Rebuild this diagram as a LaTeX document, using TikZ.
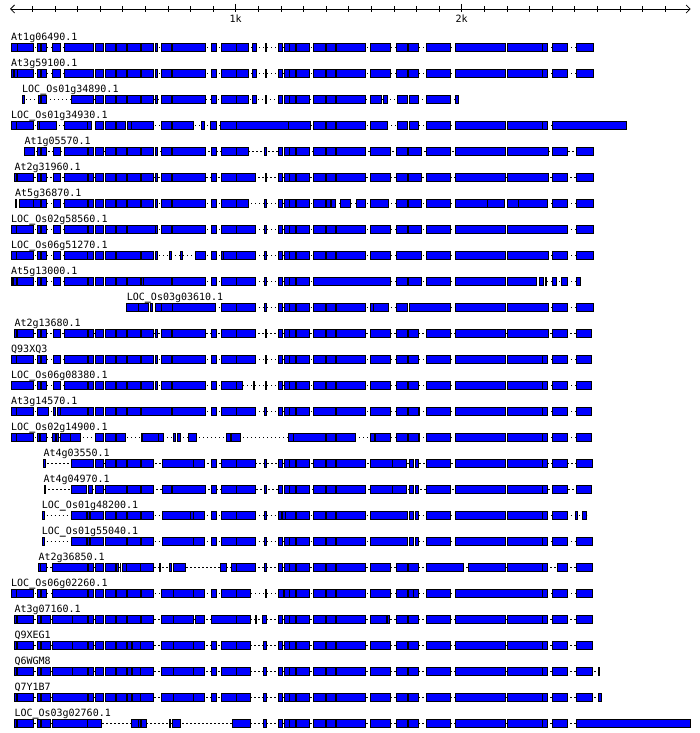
\documentclass[tikz,border=0pt]{standalone}
\usepackage{fontspec}
\usepackage{graphicx}
\setmonofont{DejaVu Sans Mono}
\usetikzlibrary{arrows.meta}

\tikzset{
  exon/.style={draw=black, fill=blue, line width=0.8pt},
  intron/.style={draw=black, line width=0.8pt, dash pattern=on 1.2pt off 2.8pt},
  gname/.style={anchor=base west, inner sep=0pt, font=\ttfamily\fontsize{10}{12}\selectfont},
  kbmark/.style={anchor=base, inner sep=0pt, font=\ttfamily\fontsize{10}{12}\selectfont},
  ruler/.style={draw=black, line width=0.8pt},
}

% a heavier underscore, the plain one vanishes at this size
\newcommand{\uscore}{\raisebox{3.4pt}{\scalebox{1}[2.4]{\_}}}

% exon blocks shared by most of the models (pixel positions)
\newcommand{\coremid}{95/103.3, 105/115, 116.7/126, 127.7/140.7, 141.7/153.3, 155.7/157, 161/171.7, 172.7/205, 211.7/216, 221.7/236.7}
\newcommand{\coretail}{278.3/282.7, 284.3/289, 289/295.3, 296/309.3, 313.3/325, 326/335, 336.7/365.7}
\newcommand{\rightA}{370/390, 396/407.7, 408.7/418, 426.3/450.7, 455/505.7, 507/542.7, 542.7/547.7, 552.3/567.7, 576.3/593.7}
\newcommand{\rightB}{370/390, 396/407.7, 408.7/421.7, 426.3/450.7, 455/505.7, 507/548.7, 552.3/567.7, 576.3/593.7}
\newcommand{\rightC}{370/390, 396/407.7, 408.7/418.7, 426.3/450.7, 455/505.7, 507/542.7, 542.7/547.7, 552.3/567.7, 576.3/592.7}

% one gene model: y, first base, last base, exons
\newcommand{\genemodel}[4]{%
  \draw[intron] (#2,#1) -- (#3,#1);
  \edef\exonlist{#4}%
  \foreach \xs/\xe in \exonlist {\draw[exon] (\xs,#1-3.7) rectangle (\xe,#1+3.7);}%
}

\begin{document}
\begin{tikzpicture}[x=1pt, y=-1pt]
\useasboundingbox (0,0) rectangle (700,733);

% scale
\draw[ruler, {Straight Barb[length=4pt,width=8pt]}-{Straight Barb[length=4pt,width=8pt]}] (10,9) -- (690.7,9);
\foreach \i in {1,...,29} \draw[ruler] (9.7+22.6*\i,6.5) -- (9.7+22.6*\i,12.3);
\draw[ruler] (235.7,4) -- (235.7,12.3);
\draw[ruler] (461.7,4) -- (461.7,12.3);
\node[kbmark] (k1) at (235.7,22.5) {1k};
\node[kbmark] (k2) at (461.7,22.5) {2k};

% gene models
\genemodel{47.5}{11}{593.7}{11/17.3, 17.3/33.3, 37.3/40, 41/46.7, 52.7/60, 64.3/93.3, \coremid, 236.7/248.3, 252.3/256, 265/266, \coretail, \rightA}
\node[gname] (g1) at (11,40.5) {At1g06490.1};

\genemodel{73.5}{11}{593.7}{11/13.3, 14/17.3, 17.3/33.3, 37.3/40, 41/46.7, 52.7/60, 64.3/93.3, \coremid, 236.7/248.3, 252.3/256, 265/266, \coretail, \rightA}
\node[gname] (g2) at (11,66.5) {At3g59100.1};

\genemodel{99.5}{22}{458.7}{22/24, 38.3/40, 41/46.7, 71.7/93.3, \coremid, 236.7/248.3, 252.3/256, 265/266, \coretail, 370/381.7, 383/387.7, 397.3/407.7, 409/418, 426.3/450.7, 455/458.7}
\node[gname] (g3) at (22,92.5) {LOC\uscore Os01g34890.1};

\genemodel{125.5}{11}{626.7}{11/16, 16/33.3, 37.3/39.3, 39.3/56, 64.3/87.3, 87.3/91.7, 95/103.3, 105/115, 116.7/125, 127.7/131.7, 131.7/153.3, 161/171.7, 172.7/193.3, 201.7/204, 210.7/216, 220.7/236.7, 236.7/288.3, 288.3/310, 313.3/325, 326/335, 336.7/365.7, 370/387.7, 397.3/407.7, 409/418, 426.3/450.7, 455/505.7, 507/542.7, 542.7/547.7, 552.3/626.7}
\node[gname] (g4) at (11,118.5) {LOC\uscore Os01g34930.1};

\genemodel{151.5}{24.3}{593.7}{24.3/34.3, 37.3/40, 41/46.7, 53.3/60, 64.3/87.3, 88.3/93.3, \coremid, 236.7/248.3, 264.3/266.7, \coretail, \rightB}
\node[gname] (g5) at (24.3,144.5) {At1g05570.1};

\genemodel{177.5}{14.3}{593.7}{14.3/16, 17.3/33.3, 37.3/40, 41/46.7, 53.3/60, 64.3/87.3, 88.3/93.3, \coremid, 236.7/255, 265/266.7, \coretail, \rightB}
\node[gname] (g6) at (14.3,170.5) {At2g31960.1};

\genemodel{203.5}{15}{593.7}{15/16.3, 19.3/33.3, 33.3/40, 41/46.7, 53.3/60, 64.3/87.3, 88.3/93.3, \coremid, 236.7/248.3, 264.3/266.7, 278.3/282.7, 284.3/289, 289/295.3, 296/309.3, 313.3/325, 326/330, 331/335, 340/350, 356.3/365.7, 370/388.3, 396/407.7, 408.7/421.7, 426.3/450.7, 455/487.7, 487.7/504.7, 507/518.7, 518.7/547.7, 552.3/567.7, 576.3/593.7}
\node[gname] (g7) at (15,196.5) {At5g36870.1};

\genemodel{229.5}{11}{593.7}{11/16, 16/33.3, 37.3/40, 41/46.7, 53.3/60, 64.3/87.3, 88.3/93.3, 95/103.3, 105/115, 116.7/126, 127.7/155, 155.7/157, 161/171.7, 172.7/205, 211.7/216, 221.7/236.7, 236.7/255, 264.3/266.7, \coretail, 370/390, 396/407.7, 408.7/421.7, 426.3/450.7, 455/505.7, 507/567.7, 576.3/593.7}
\node[gname] (g8) at (11,222.5) {LOC\uscore Os02g58560.1};

\genemodel{255.5}{11}{593.7}{11/16, 16/33.3, 37.3/40, 41/46.7, 53.3/60, 64.3/87.3, 87.3/93.3, 95/103.3, 105/115, 116.7/140, 141.7/153.3, 155.7/157, 169.3/171, 180/182.7, 195/205, 211.7/216, 221/223.3, 223.3/236.7, 236.7/255, 264.3/266.7, \coretail, 370/390, 396/421.7, 426.3/450.7, 455/505.7, 507/548.7, 552.3/567.7, 576.3/593.7}
\node[gname] (g9) at (11,248.5) {LOC\uscore Os06g51270.1};

\genemodel{281.5}{11}{580.7}{11/12.7, 13.3/16, 17.3/33.3, 37.3/40, 41/46.7, 53.3/60, 64.3/87.3, 88.3/93.3, 95/103.3, 105/115, 116.7/126, 127.7/140.7, 141.7/143.7, 143.7/171.7, 172.7/205, 211.7/216, 221.7/236.7, 236.7/255, 264.3/266.7, 278.3/282.7, 284.3/289, 289/295.3, 296/309.3, 313.3/390, 396/407.7, 408.7/421.7, 426.3/450.7, 455/505.7, 507/536.7, 539/543.7, 545/546.7, 552.3/556.7, 561.3/567.7, 576.3/580.7}
\node[gname] (g10) at (11,274.5) {At5g13000.1};

\genemodel{307.5}{126.7}{593.7}{126.7/138.3, 138.3/148.3, 150/152, 155/161, 161/172, 172.7/215, 221.7/236.7, 236.7/255, 264.3/266.7, \coretail, 370/373.3, 373.3/388.7, 396/407.7, 409/450.7, 455/505.7, 507/548.7, 552.3/567.7, 576.3/593.7}
\node[gname] (g11) at (126.7,300.5) {LOC\uscore Os03g03610.1};

\genemodel{333.5}{14.3}{591.7}{14.3/16, 17.3/33.3, 37.3/40, 41/46.7, 53.3/60, 64.3/87.3, 88.3/93.3, \coremid, 236.7/255, 265/266, \coretail, 370/390, 396/407.7, 408.7/418.7, 426.3/450.7, 455/505.7, 507/548.7, 552.3/567.7, 576.3/591.7}
\node[gname] (g12) at (14.3,326.5) {At2g13680.1};

\genemodel{359.5}{11}{591.7}{11/16, 16/33.3, 37.3/40, 41/46.7, 53.3/60, 64.3/87.3, 88.3/93.3, \coremid, 236.7/255, 265/266, \coretail, 370/390, 396/407.7, 408.7/418.7, 426.3/450.7, 455/505.7, 507/542.7, 542.7/547.7, 552.3/567.7, 576.3/591.7}
\node[gname] (g13) at (11,352.5) {Q93XQ3};

\genemodel{385.5}{11}{591.7}{11/33.3, 37.3/40, 41/46.7, 53.3/60, 64.3/87.3, 88.3/93.3, \coremid, 236.7/242.7, 253.3/254.3, 265/266, \coretail, 370/390, 396/407.7, 408.7/418.7, 426.3/450.7, 455/505.7, 507/542.7, 542.7/547.7, 552.3/567.7, 576.3/591.7}
\node[gname] (g14) at (11,378.5) {LOC\uscore Os06g08380.1};

\genemodel{411.5}{11}{591.7}{11/16, 16/33.3, 37.3/48.3, 53.3/55, 57.3/60, 60/87.3, 88.3/93.3, 95/103.3, 105/115, 116.7/126, 127.7/140.7, 141.7/171.7, 172.7/205, 211.7/216, 221.7/236.7, 236.7/255, 264.3/266.7, 278.3/282.7, 284.3/289, 289/295.3, 296/309.3, 313.3/335, 336.7/365.7, 370/390, 396/407.7, 408.7/418, 419/419.7, 426.3/450.7, 455/505.7, 507/542.7, 542.7/547.7, 552.3/567.7, 576.3/591.7}
\node[gname] (g15) at (11,404.5) {At3g14570.1};

\genemodel{437.5}{11}{591.7}{11/16, 16/33.3, 37.3/39.3, 40/46.7, 52.7/55, 56/58.3, 60/70, 70/80, 95/103.3, 105/115, 116.7/125, 141/142.7, 142.7/158.3, 158.3/163.3, 173.3/175.3, 177.7/180, 188.3/196.7, 226.7/230.7, 231/240.7, 288.3/293.3, 293.3/325, 326/335, 336.7/355.7, 370/374, 375/390, 396/407.7, 408.7/418, 419/419.7, 426.3/450.7, 455/505.7, 507/542.7, 542.7/547.7, 552.3/567.7, 576.3/591.7}
\node[gname] (g16) at (11,430.5) {LOC\uscore Os02g14900.1};

\genemodel{463.5}{43.3}{592.7}{43.3/45, 71.7/93.3, 95/103.3, 105/115, 116.7/126, 127.7/140.7, 141.7/153.3, 162.3/193.3, 193.3/204, 211.7/216, 221.7/236.7, 236.7/255, 264.3/266.7, \coretail, 370/392.3, 392.3/406.7, 409/413.7, 415/418.7, 426.3/450.7, 455/505.7, 507/542.7, 542.7/547.7, 552.3/567.7, 576.3/592.7}
\node[gname] (g17) at (43.3,456.5) {At4g03550.1};

\genemodel{489.5}{44.3}{591.7}{44.3/45.7, 71.7/86, 88.3/92.7, 95/103.3, 105/126, 127.7/140.7, 141.7/153.3, 162.3/171.7, 172.7/205, 211.7/216, 221.7/236.7, 236.7/255, 264.3/266.7, \coretail, 370/392.3, 392.3/406.7, 409/413.7, 415/418.7, 426.3/450.7, 455/505.7, 507/542.7, 542.7/547.7, 552.3/567.7, 576.3/591.7}
\node[gname] (g18) at (43.3,482.5) {At4g04970.1};

\genemodel{515.5}{42.7}{586.7}{42.7/44.7, 71.7/86, 87.3/89.3, 90/103.3, 105/115, 116.7/126, 127.7/140.7, 141.7/153.3, 162.3/190.7, 190.7/193.3, 193.3/204, 211.7/216, 221.7/236.7, 236.7/255, 264.3/266.7, 278.3/281, 282.7/285, 285/295.3, 296/309.3, 313.3/325, 326/335, 336.7/365.7, 370/407.7, 409/413.7, 415/418.7, 426.3/450.7, 455/505.7, 507/542.7, 542.7/547.7, 552.3/567.7, 575.7/577.7, 582.3/586.7}
\node[gname] (g19) at (41.7,508.5) {LOC\uscore Os01g48200.1};

\genemodel{541.5}{42.7}{592.7}{42.7/44.7, 71.7/86, 87.3/89.3, 90/103.3, 105/126, 127.7/140.7, 141.7/153.3, 162.3/193.3, 193.3/204, 211.7/216, 221.7/236.7, 236.7/255, 264.3/266.7, \coretail, 370/407.7, 409/413.7, 415/418.7, 426.3/450.7, 455/505.7, 507/542.7, 542.7/547.7, 552.3/567.7, 576.3/592.7}
\node[gname] (g20) at (41.7,534.5) {LOC\uscore Os01g55040.1};

\genemodel{567.5}{38.3}{592.7}{38.3/40, 40.7/46.7, 52.7/87.3, 88.3/93.3, 95/103.3, 105/115, 116.7/118.3, 120/120.7, 122.7/126, 126.7/140, 140/153.3, 159.3/160.3, 169.3/171.3, 173.3/185, 220.7/226.7, 231.7/236.7, 236.7/255, 264.3/266.7, \coretail, 370/390, 396/407.7, 408.7/418.7, 426.3/463.7, 468.3/505.7, 507/542.7, 542.7/547.7, 557.3/567.7, 576.3/592.7}
\node[gname] (g21) at (38.3,560.5) {At2g36850.1};

\genemodel{593.5}{11}{592.7}{11/16, 16/33.3, 37.3/40, 41/46.7, 52.7/87.3, 88.3/93.3, 95/103.3, 105/115, 116.7/126, 127.7/140.7, 141.7/153.3, 161/173.3, 173.3/193.3, 193.3/204, 211.7/216, 221.7/236.7, 236.7/250, 265.3/266.7, 278.3/283.3, 284.3/289, 289/295.3, 296/309.3, 313.3/325, 326/335, 336.7/365.7, 370/390, 396/407.7, 408.7/413, 413.7/418.7, 426.3/450.7, 455/542.7, 542.7/547.7, 552.3/567.7, 576.3/592.7}
\node[gname] (g22) at (11,586.5) {LOC\uscore Os06g02260.1};

\genemodel{619.5}{14.3}{592.7}{14.3/16, 17.3/33.3, 37.3/40, 41/50, 52.7/72.7, 72.7/87.3, 88.3/93.3, 95/103.3, 105/115, 116.7/126, 127.7/140.7, 141.7/153.3, 161/173.3, 173.3/193.3, 195/204, 211.7/236.7, 236.7/250, 255/256.7, 262.3/266.7, \coretail, 370/386.7, 387.7/389.3, 396/407.7, 408.7/418.7, 426.3/450.7, 455/505.7, 507/542.7, 542.7/547.7, 552.3/567.7, 576.3/592.7}
\node[gname] (g23) at (14.3,612.5) {At3g07160.1};

\genemodel{645.5}{14.3}{592.7}{14.3/16, 17.3/33.3, 37.3/40, 41/50, 52.7/72.7, 72.7/87.3, 88.3/93.3, 95/103.3, 105/115, 116.7/126, 127.7/131.7, 132.7/140, 140/153.3, 161/173.3, 173.3/193.3, 193.3/204, 211.7/216, 221.7/236.7, 236.7/250, 263.3/266.7, \coretail, \rightC}
\node[gname] (g24) at (14.3,638.5) {Q9XEG1};

\genemodel{671.5}{14.3}{599.7}{14.3/16, 17.3/33.3, 37.3/40, 41/50, 52.7/72.7, 72.7/87.3, 88.3/93.3, 95/103.3, 105/115, 116.7/126, 127.7/131.7, 132.7/140, 140/153.3, 161/173.3, 173.3/193.3, 193.3/204, 211.7/216, 221.7/236.7, 236.7/250, 263.3/266.7, \coretail, \rightC, 598.7/599.7}
\node[gname] (g25) at (14.3,664.5) {Q6WGM8};

\genemodel{697.5}{14.3}{601.7}{14.3/16, 17.3/33.3, 37.3/40, 41/50, 52.7/87.3, 88.3/93.3, 95/103.3, 105/115, 116.7/126, 127.7/131.7, 132.7/140, 140/153.3, 161/173.3, 173.3/193.3, 193.3/204, 211.7/216, 221.7/236.7, 236.7/250, 263.3/266.7, \coretail, \rightC, 598.7/601.7}
\node[gname] (g26) at (14.3,690.5) {Q7Y1B7};

\genemodel{723.5}{14.3}{690.7}{14.3/16, 17.3/33.3, 37.3/40, 41/50, 52.7/87.3, 87.3/101.7, 131.7/138.3, 138.3/140, 141.7/146.7, 169.3/170.7, 172.7/180, 232.7/250, 263.3/266.7, \coretail, 370/390, 396/407.7, 408.7/418.7, 426.3/450.7, 455/505.7, 507/542.7, 542.7/547.7, 552.3/567.7, 576.3/690.7}
\node[gname] (g27) at (14.3,716.5) {LOC\uscore Os03g02760.1};

\end{tikzpicture}
\end{document}
